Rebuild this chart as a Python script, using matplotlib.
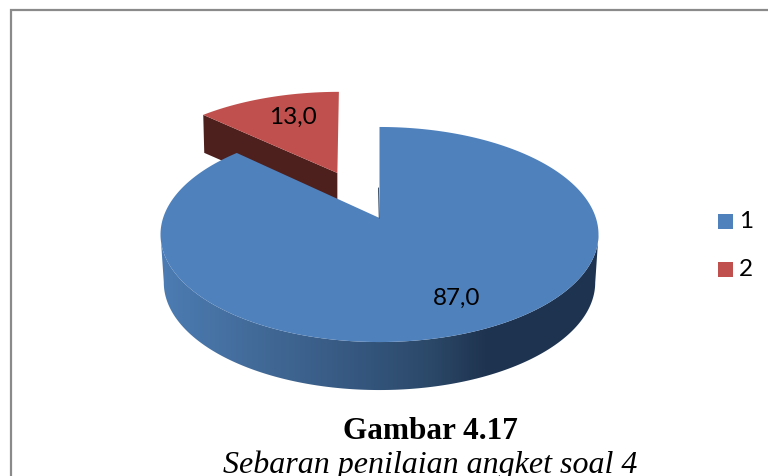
import numpy as np
import matplotlib
matplotlib.use("Agg")
import matplotlib.pyplot as plt
from matplotlib.patches import Polygon, Rectangle
from matplotlib.colors import LinearSegmentedColormap

categories = ["1", "2"]
values = [87.0, 13.0]
title = "Gambar 4.17"
subtitle = "Sebaran penilaian angket soal 4"

BLUE, RED, RED_WALL = "#4f81bd", "#c0504d", "#4d1f1d"
CX, CY, A, B, K = 379.5, 218.0, 105.0, 216.4, 0.1535
DEPTH, RED_DEPTH, EXPLODE = 48.0, 38.0, 0.5

fig = plt.figure(figsize=(7.68, 4.76), dpi=100, facecolor="white")
ax = fig.add_axes([0, 0, 1, 1])
ax.set_xlim(0, 768)
ax.set_ylim(476, 0)
ax.axis("off")


def project(theta, r=1.0, du=0.0, dv=0.0):
    u = r * np.sin(theta) + du
    v = r * np.cos(theta) + dv
    w = 1 + K * v
    return CX + B * u / w, CY - A * v / w


total = sum(values)
split = 2 * np.pi * values[0] / total

# exploded slice 2
mid = split + (2 * np.pi - split) / 2
du, dv = EXPLODE * np.sin(mid), EXPLODE * np.cos(mid)
t_red = np.linspace(split, 2 * np.pi, 60)
rx, ry = project(t_red, du=du, dv=dv)
rx, ry = rx - 5.5, ry - 1
ax_, ay_ = project(0.0, r=0.0, du=du, dv=dv)
ax_ -= 2
ax.add_patch(Polygon([(ax_, ay_), (rx[0], ry[0]), (rx[0] + 1, ry[0] + RED_DEPTH),
                      (ax_, ay_ + RED_DEPTH)], closed=True, fc=RED_WALL, ec="none", zorder=2))
ax.add_patch(Polygon(np.r_[[[ax_, ay_]], np.c_[rx, ry]], closed=True, fc=RED, ec="none", zorder=3))

# side wall of slice 1, shaded left to right
t_blue = np.linspace(0, split, 400)
bx, by = project(t_blue)
t_front = t_blue[(t_blue >= t_blue[np.argmax(bx)]) & (t_blue <= t_blue[np.argmin(bx)])]
fx, fy = project(t_front)
lowx = CX + (fx - CX) * 0.985
rim = np.r_[np.c_[fx, fy], np.c_[lowx, fy + DEPTH][::-1]]
cmap = LinearSegmentedColormap.from_list("rim", [(0, "#4c7cb3"), (0.22, "#426a98"),
                                                 (0.45, "#35577f"), (0.62, "#2b4868"),
                                                 (0.74, "#1f3450"), (1, "#1e3350")])
img = ax.imshow(np.linspace(0, 1, 256)[None, :], cmap=cmap, extent=(161, 599, 400, 200),
                aspect="auto", zorder=4)
clip = Polygon(rim, closed=True, transform=ax.transData, fc="none", ec="none")
ax.add_patch(clip)
img.set_clip_path(clip)
ax.set_xlim(0, 768)
ax.set_ylim(476, 0)

# top face of slice 1
ax.add_patch(Polygon(np.r_[[[CX, CY]], np.c_[bx, by]], closed=True, fc=BLUE, ec="none", zorder=5))
ax.plot([CX - 1, CX - 0.3], [CY - 30, CY], color="#1e3350", lw=0.6, zorder=6)

# data labels
fnt = dict(family="Lato", fontsize=17.5, color="black", ha="center", va="center", zorder=7)
ax.text(293, 117, f"{values[1]:.1f}".replace(".", ","), **fnt)
ax.text(457, 298, f"{values[0]:.1f}".replace(".", ","), **fnt)

# legend
for cat, col, y in zip(categories, [BLUE, RED], [214, 262]):
    ax.add_patch(Rectangle((718, y), 15, 15, fc=col, ec="none", zorder=7))
    ax.text(739, y + 7.5, cat, family="Lato", fontsize=17.5, ha="left", va="center", color="black")

# chart border
ax.plot([11, 11, 768], [476, 10, 10], color="#8a8a8a", lw=1.6, solid_joinstyle="miter",
        clip_on=False, zorder=1)

# caption (runs off the bottom of the image)
ax.text(430.5, 439, title, family="Liberation Serif", weight="bold", fontsize=22.5,
        ha="center", va="baseline", color="black")
ax.text(430.5, 473, subtitle, family="Liberation Serif", style="italic", fontsize=23,
        ha="center", va="baseline", color="black")

fig.savefig("out.png", dpi=100, facecolor="white")
